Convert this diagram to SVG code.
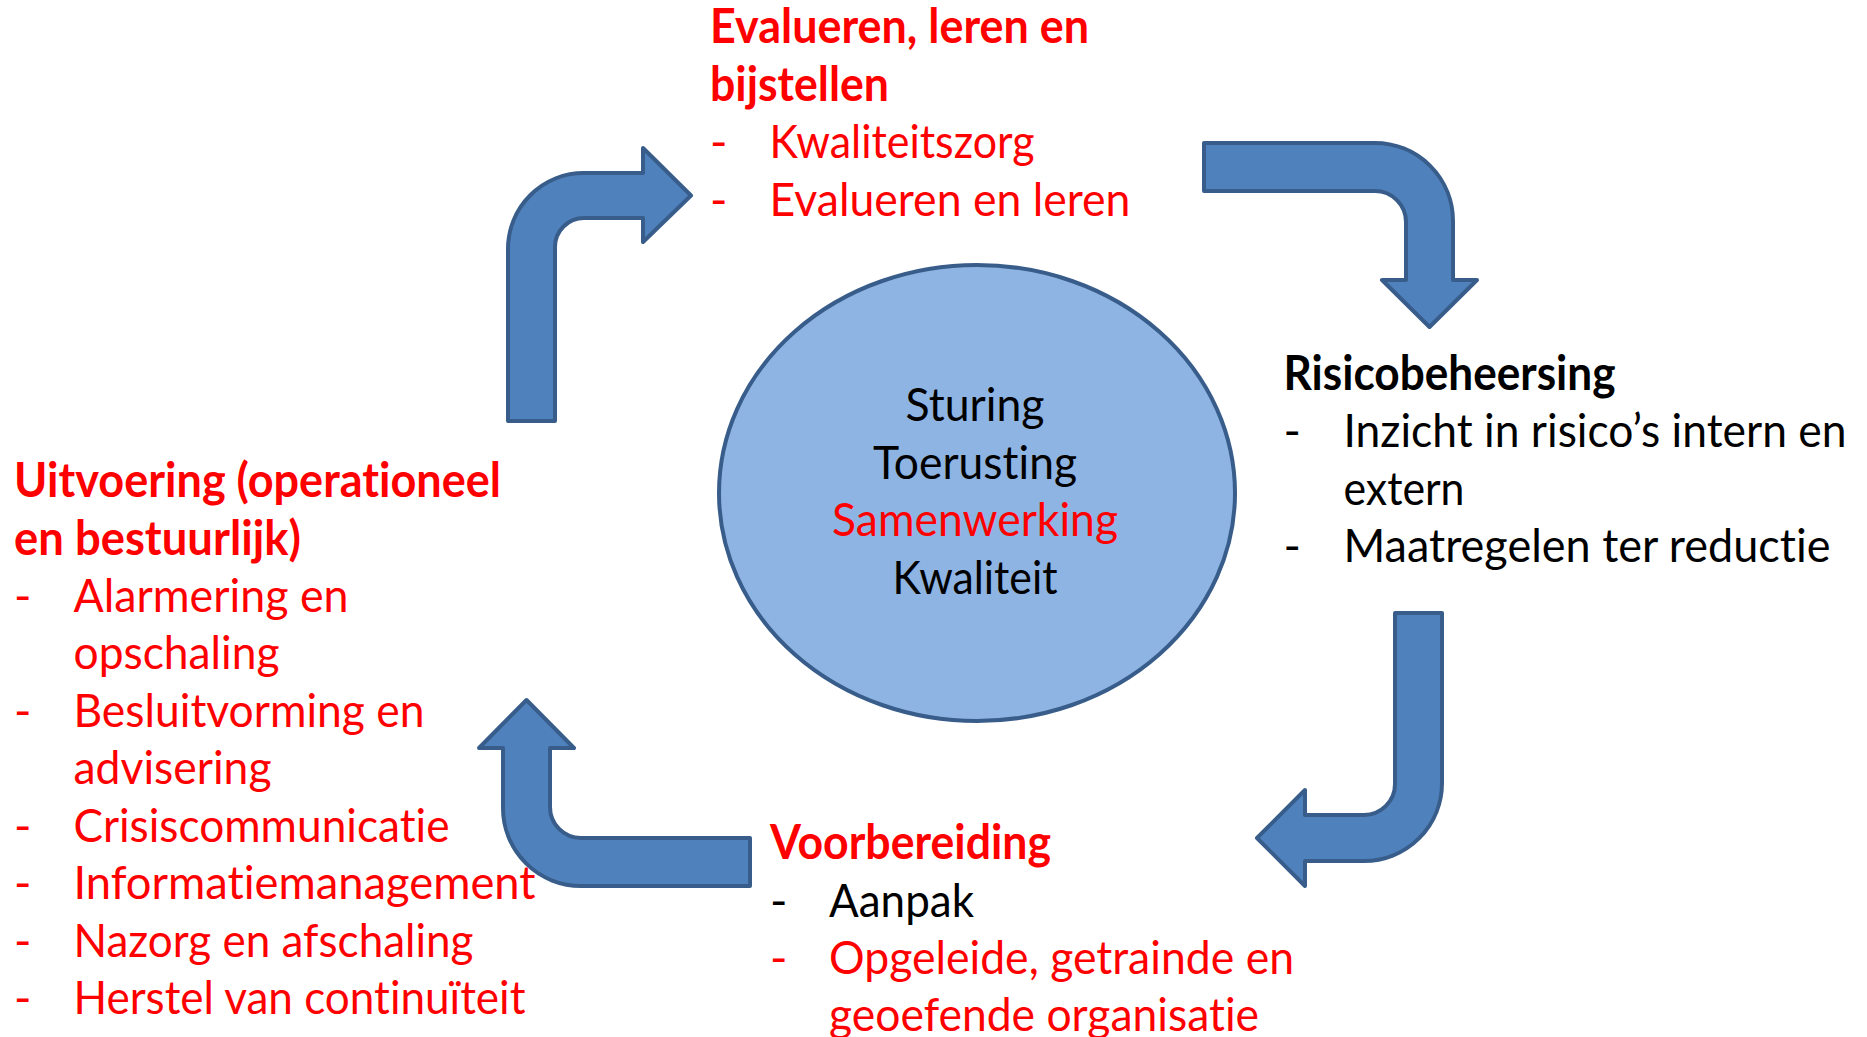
<svg xmlns="http://www.w3.org/2000/svg" width="1867" height="1037" viewBox="0 0 1867 1037">
<style>
.t{font-family:Lato,"Liberation Sans","DejaVu Sans",sans-serif;font-size:47px;font-variant-ligatures:none;font-feature-settings:"liga" 0,"clig" 0,"dlig" 0}
.b{font-weight:bold}
.r{fill:#FF0000}
.k{fill:#000000}
.arrow{fill:#4F81BD;stroke:#385D8A;stroke-width:4;stroke-linejoin:round}
.hub{fill:#8EB4E3;stroke:#385D8A;stroke-width:4}
</style>
<rect width="1867" height="1037" fill="#FFFFFF"/>
<g id="connectors">
<path class="arrow" d="M 508 421 L 508 249 A 76 76 0 0 1 584 173 L 643 173 L 643 148 L 691 195.5 L 643 242 L 643 218 L 584 218 A 29 29 0 0 0 555 247 L 555 421 Z"/>
<path class="arrow" d="M 1204 143 L 1375 143 A 78 78 0 0 1 1453 221 L 1453 280 L 1477 280 L 1429.5 327 L 1382 280 L 1406 280 L 1406 222 A 31 31 0 0 0 1375 191 L 1204 191 Z"/>
<path class="arrow" d="M 1395 613 L 1442 613 L 1442 783 A 78 78 0 0 1 1364 861 L 1305 861 L 1305 886 L 1257 838 L 1305 790 L 1305 815 L 1364 815 A 31 31 0 0 0 1395 784 Z"/>
<path class="arrow" d="M 750 838 L 750 886 L 581 886 A 78 78 0 0 1 503 808 L 503 748 L 479 748 L 526.5 700 L 574 748 L 550 748 L 550 807 A 31 31 0 0 0 581 838 Z"/>
</g>
<g id="hub">
<ellipse class="hub" cx="977" cy="493" rx="258" ry="228"/>
<text class="t k" x="975" y="421" text-anchor="middle" textLength="139" lengthAdjust="spacingAndGlyphs">Sturing</text>
<text class="t k" x="975" y="478.5" text-anchor="middle" textLength="204" lengthAdjust="spacingAndGlyphs">Toerusting</text>
<text class="t r" x="975" y="536" text-anchor="middle" textLength="286" lengthAdjust="spacingAndGlyphs">Samenwerking</text>
<text class="t k" x="975" y="593.5" text-anchor="middle" textLength="165" lengthAdjust="spacingAndGlyphs">Kwaliteit</text>
</g>
<g id="evalueren">
<text class="t b r" x="710" y="43" textLength="379" lengthAdjust="spacingAndGlyphs">Evalueren, leren en</text>
<text class="t b r" x="710" y="100.5" textLength="179" lengthAdjust="spacingAndGlyphs">bijstellen</text>
<text class="t r" x="710" y="158">-</text>
<text class="t r" x="769.5" y="158" textLength="265" lengthAdjust="spacingAndGlyphs">Kwaliteitszorg</text>
<text class="t r" x="710" y="215.5">-</text>
<text class="t r" x="769.5" y="215.5" textLength="361" lengthAdjust="spacingAndGlyphs">Evalueren en leren</text>
</g>
<g id="risicobeheersing">
<text class="t b k" x="1283.5" y="389.5" textLength="332" lengthAdjust="spacingAndGlyphs">Risicobeheersing</text>
<text class="t k" x="1283.5" y="447">-</text>
<text class="t k" x="1343.5" y="447" textLength="503" lengthAdjust="spacingAndGlyphs">Inzicht in risico’s intern en</text>
<text class="t k" x="1343.5" y="504.5" textLength="121" lengthAdjust="spacingAndGlyphs">extern</text>
<text class="t k" x="1283.5" y="562">-</text>
<text class="t k" x="1343.5" y="562" textLength="487" lengthAdjust="spacingAndGlyphs">Maatregelen ter reductie</text>
</g>
<g id="voorbereiding">
<text class="t b r" x="770" y="859" textLength="281" lengthAdjust="spacingAndGlyphs">Voorbereiding</text>
<text class="t k" x="770" y="916.5">-</text>
<text class="t k" x="829" y="916.5" textLength="145" lengthAdjust="spacingAndGlyphs">Aanpak</text>
<text class="t r" x="770" y="974">-</text>
<text class="t r" x="829" y="974" textLength="465" lengthAdjust="spacingAndGlyphs">Opgeleide, getrainde en</text>
<text class="t r" x="829" y="1031" textLength="430" lengthAdjust="spacingAndGlyphs">geoefende organisatie</text>
</g>
<g id="uitvoering">
<text class="t b r" x="14" y="497" textLength="487" lengthAdjust="spacingAndGlyphs">Uitvoering (operationeel</text>
<text class="t b r" x="14" y="554.5" textLength="287" lengthAdjust="spacingAndGlyphs">en bestuurlijk)</text>
<text class="t r" x="14" y="611.5">-</text>
<text class="t r" x="73.5" y="611.5" textLength="275" lengthAdjust="spacingAndGlyphs">Alarmering en</text>
<text class="t r" x="73.5" y="669" textLength="206" lengthAdjust="spacingAndGlyphs">opschaling</text>
<text class="t r" x="14" y="726.5">-</text>
<text class="t r" x="73.5" y="726.5" textLength="351" lengthAdjust="spacingAndGlyphs">Besluitvorming en</text>
<text class="t r" x="73.5" y="784" textLength="198" lengthAdjust="spacingAndGlyphs">advisering</text>
<text class="t r" x="14" y="841.5">-</text>
<text class="t r" x="73.5" y="841.5" textLength="376" lengthAdjust="spacingAndGlyphs">Crisiscommunicatie</text>
<text class="t r" x="14" y="899">-</text>
<text class="t r" x="73.5" y="899" textLength="462" lengthAdjust="spacingAndGlyphs">Informatiemanagement</text>
<text class="t r" x="14" y="956.5">-</text>
<text class="t r" x="73.5" y="956.5" textLength="400" lengthAdjust="spacingAndGlyphs">Nazorg en afschaling</text>
<text class="t r" x="14" y="1014">-</text>
<text class="t r" x="73.5" y="1014" textLength="452" lengthAdjust="spacingAndGlyphs">Herstel van continuïteit</text>
</g>
</svg>
